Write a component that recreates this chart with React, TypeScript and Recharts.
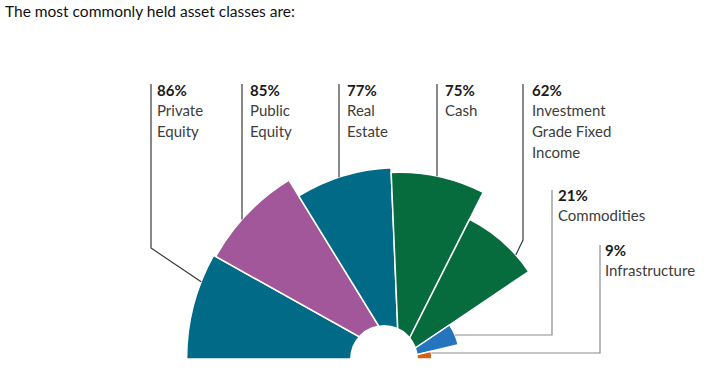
import { PieChart, Pie } from "recharts";

const categories = [
  "Private Equity",
  "Public Equity",
  "Real Estate",
  "Cash",
  "Investment Grade Fixed Income",
  "Commodities",
  "Infrastructure",
];
const nameLines = [
  ["Private", "Equity"],
  ["Public", "Equity"],
  ["Real", "Estate"],
  ["Cash"],
  ["Investment", "Grade Fixed", "Income"],
  ["Commodities"],
  ["Infrastructure"],
];
const shareHeld = [86, 85, 77, 75, 62, 21, 9];

const colors = ["#016a86", "#a1579a", "#016a86", "#066b3d", "#066b3d", "#2574be", "#d2601a"];

// layout of the fan: slice centre, angular width of each slice, radius scale
const CX = 399;
const CY = 359;
const SWEEP = [29.2, 29.2, 29.2, 29.2, 29.2, 20.5, 13.5];
const R0 = 12;
const PX_PER_PCT = 2.33;
const radius = (v: number) => R0 + v * PX_PER_PCT;
const HOLE = { cx: 384, r: 34 };

const FONT = "Lato, 'Noto Sans', sans-serif";

type Leader = {
  x: number;
  top: number;
  textX: number;
  base: number;
  mode: "down" | "angle" | "flat";
  elbow?: number;
  angle?: number;
  color: string;
};

const LEADERS: Leader[] = [
  { x: 151, top: 84, textX: 157, base: 96, mode: "angle", elbow: 248, angle: 158.7, color: "#3a3a3a" },
  { x: 242, top: 84, textX: 250, base: 96, mode: "down", color: "#3a3a3a" },
  { x: 339, top: 84, textX: 347, base: 96, mode: "down", color: "#3a3a3a" },
  { x: 437, top: 84, textX: 445, base: 96, mode: "down", color: "#3a3a3a" },
  { x: 523, top: 84, textX: 532, base: 96, mode: "angle", elbow: 240, angle: 41.7, color: "#3a3a3a" },
  { x: 552, top: 190, textX: 558, base: 201, mode: "flat", elbow: 335, color: "#8c8c8c" },
  { x: 600, top: 245, textX: 605, base: 256, mode: "flat", elbow: 353, color: "#8c8c8c" },
];

function makeLabel(i: number) {
  return (p: any) => {
    const { cx, cy, outerRadius } = p;
    const L = LEADERS[i];
    const pts: number[][] = [[L.x, L.top]];
    if (L.mode === "down") {
      pts.push([L.x, cy - Math.sqrt(outerRadius * outerRadius - (L.x - cx) * (L.x - cx))]);
    } else if (L.mode === "angle") {
      const a = ((L.angle as number) * Math.PI) / 180;
      pts.push([L.x, L.elbow as number]);
      pts.push([cx + outerRadius * Math.cos(a), cy - outerRadius * Math.sin(a)]);
    } else {
      const dy = cy - (L.elbow as number);
      pts.push([L.x, L.elbow as number]);
      pts.push([cx + Math.sqrt(Math.max(0, outerRadius * outerRadius - dy * dy)), L.elbow as number]);
    }
    return (
      <g key={`lbl-${i}`}>
        <polyline
          points={pts.map((q) => q.join(",")).join(" ")}
          fill="none"
          stroke={L.color}
          strokeWidth={1.2}
        />
        <text x={L.textX} y={L.base} fontFamily={FONT} fontSize={15} fontWeight={700} fill="#1a1a1a">
          {shareHeld[i]}%
        </text>
        {nameLines[i].map((t, j) => (
          <text key={j} x={L.textX} y={L.base + 20 + j * 21} fontFamily={FONT} fontSize={15} fill="#3d3d3d">
            {t}
          </text>
        ))}
      </g>
    );
  };
}

export default function App() {
  let start = 180;
  const slices = categories.map((name, i) => {
    const s = start;
    const e = start - SWEEP[i];
    start = e;
    return (
      <Pie
        key={name}
        data={[{ name, value: shareHeld[i] }]}
        dataKey="value"
        cx={CX}
        cy={CY}
        startAngle={s}
        endAngle={e}
        innerRadius={0}
        outerRadius={radius(shareHeld[i])}
        fill={colors[i]}
        stroke="#fff"
        strokeWidth={1.5}
        label={makeLabel(i)}
        labelLine={false}
        isAnimationActive={false}
      />
    );
  });

  return (
    <div style={{ position: "absolute", left: 0, top: 0, width: 722, height: 388, background: "#fff" }}>
      <PieChart width={722} height={388} margin={{ top: 0, right: 0, bottom: 0, left: 0 }}>
        {slices}
        <Pie
          data={[{ name: "hole", value: 1 }]}
          dataKey="value"
          cx={HOLE.cx}
          cy={CY}
          startAngle={180}
          endAngle={0}
          innerRadius={0}
          outerRadius={HOLE.r}
          fill="#fff"
          stroke="none"
          isAnimationActive={false}
        />
      </PieChart>
      <svg width={722} height={388} style={{ position: "absolute", left: 0, top: 0, pointerEvents: "none" }}>
        <text x={5} y={17} fontFamily={FONT} fontSize={15.5} fill="#111">
          The most commonly held asset classes are:
        </text>
      </svg>
    </div>
  );
}
